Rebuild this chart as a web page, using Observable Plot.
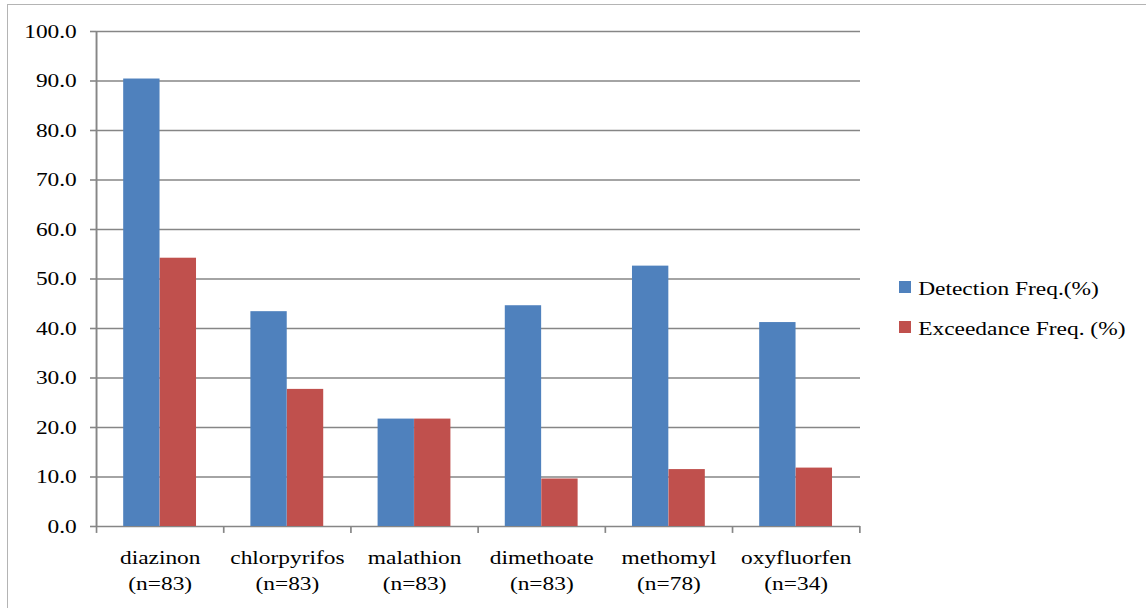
<!DOCTYPE html>
<html>
<head>
<meta charset="utf-8">
<script src="https://cdn.jsdelivr.net/npm/d3@7"></script>
<script src="https://cdn.jsdelivr.net/npm/@observablehq/plot@0.6"></script>
<style>
  html, body { margin: 0; padding: 0; background: #fff; overflow: hidden; }
  #page { position: relative; width: 1146px; height: 608px; overflow: hidden; font-family: "Liberation Serif", "Times New Roman", serif; }
  #border { position: absolute; left: 7px; top: 4px; width: 1160px; height: 630px; border: 1.5px solid #b4b4b4; box-sizing: border-box; }
  #chart { position: absolute; left: 0; top: 0; }
  #legend { position: absolute; left: 899px; top: 0; transform: scaleX(1.2); transform-origin: left top; }
  .row { position: absolute; left: 0; white-space: nowrap; font-size: 19.5px; line-height: 20px; color: #000; }
  .sw { position: absolute; left: 0; top: 2px; width: 10px; height: 12px; }
  .lbl { position: absolute; left: 16px; top: 0; }
</style>
</head>
<body>
<div id="page">
  <div id="border"></div>
  <div id="chart"></div>
  <div id="legend"></div>
</div>
<script>
const categories = ["diazinon", "chlorpyrifos", "malathion", "dimethoate", "methomyl", "oxyfluorfen"];
const sampleSizes = ["(n=83)", "(n=83)", "(n=83)", "(n=83)", "(n=78)", "(n=34)"];
const detectionFreq = [90.4, 43.4, 21.7, 44.6, 52.6, 41.2];
const exceedanceFreq = [54.2, 27.7, 21.7, 9.6, 11.5, 11.8];
const seriesNames = ["Detection Freq.(%)", "Exceedance Freq. (%)"];
const seriesColors = ["#4F81BD", "#C0504D"];
const yTicks = [0, 10, 20, 30, 40, 50, 60, 70, 80, 90, 100];

const stretch = 1.2;
const W = 1146 / stretch, H = 608;
const ml = 96 / stretch, mr = 286 / stretch, mt = 31, mb = 82;
const bw = (W - ml - mr) / categories.length;
const gap = bw * 0.2135;

const data = categories.map((c, i) => ({cat: c, n: sampleSizes[i], det: detectionFreq[i], exc: exceedanceFreq[i]}));
const labelOf = new Map(categories.map((c, i) => [c, c + "\n" + sampleSizes[i]]));
const grid = "#868686";

const plot = Plot.plot({
  width: W,
  height: H,
  marginLeft: ml,
  marginRight: mr,
  marginTop: mt,
  marginBottom: mb,
  style: {fontFamily: "'Liberation Serif', 'Times New Roman', serif", fontSize: "19.5px", background: "transparent", color: "#000"},
  x: {domain: categories, padding: 0, axis: null, label: null},
  y: {domain: [0, 100], axis: null, label: null},
  marks: [
    Plot.ruleY(yTicks, {stroke: grid, strokeWidth: 1.6}),
    Plot.barY(data, {x: "cat", y: "det", fill: seriesColors[0], insetLeft: gap, insetRight: bw / 2}),
    Plot.barY(data, {x: "cat", y: "exc", fill: seriesColors[1], insetLeft: bw / 2, insetRight: gap}),
    Plot.ruleX([categories[0]], {x: d => d, dx: -bw / 2, y1: 0, y2: 100, stroke: grid, strokeWidth: 1.6}),
    Plot.ruleX(categories, {x: d => d, dx: -bw / 2, y1: 0, y2: -1.4, stroke: grid, strokeWidth: 1.4}),
    Plot.ruleX([categories[categories.length - 1]], {x: d => d, dx: bw / 2, y1: 0, y2: -1.4, stroke: grid, strokeWidth: 1.4}),
    Plot.axisY({ticks: yTicks, tickFormat: d3.format(".1f"), tickSize: 5, tickPadding: 11.5, stroke: grid, strokeWidth: 1.6, fill: "#000", fontSize: 19.5, label: null}),
    Plot.axisX({tickSize: 0, tickPadding: 19, tickFormat: d => labelOf.get(d), fill: "#000", fontSize: 19.5, lineHeight: 1.33, label: null})
  ]
});

plot.setAttribute("width", 1146);
plot.setAttribute("height", 608);
plot.setAttribute("preserveAspectRatio", "none");
plot.style.maxWidth = "none";
plot.style.width = "1146px";
plot.style.height = "608px";
document.getElementById("chart").appendChild(plot);

const legend = document.getElementById("legend");
const rowTops = [279.4, 319.4];
seriesNames.forEach((name, i) => {
  const row = document.createElement("div");
  row.className = "row";
  row.style.top = rowTops[i] + "px";
  const sw = document.createElement("div");
  sw.className = "sw";
  sw.style.background = seriesColors[i];
  const lbl = document.createElement("span");
  lbl.className = "lbl";
  lbl.textContent = name;
  row.appendChild(sw);
  row.appendChild(lbl);
  legend.appendChild(row);
});
</script>
</body>
</html>
